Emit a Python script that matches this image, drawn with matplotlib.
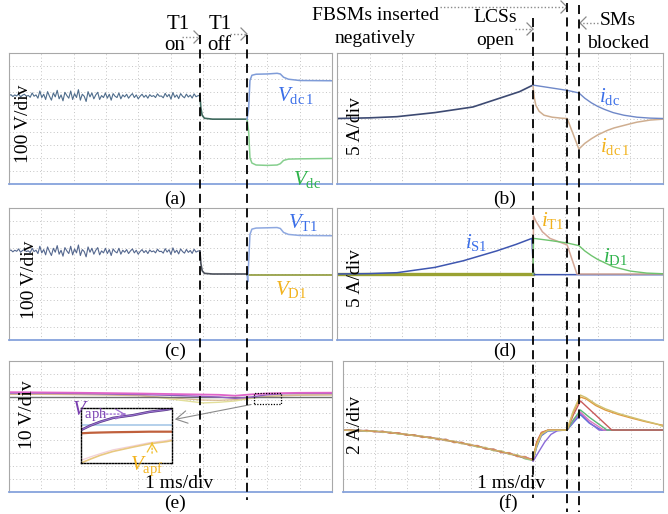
import numpy as np
import matplotlib
matplotlib.use('Agg')
import matplotlib.pyplot as plt
from matplotlib.lines import Line2D
from matplotlib.transforms import blended_transform_factory

plt.rcParams['font.family'] = ['Liberation Serif', 'DejaVu Serif']
plt.rcParams['mathtext.fontset'] = 'custom'
plt.rcParams['mathtext.rm'] = 'Liberation Serif'
plt.rcParams['mathtext.it'] = 'Liberation Serif:italic'

W, H = 668, 514

# event times (ms, 1 ms/div); values below are in divisions
T_ON, T_OFF = 5.91, 7.37
T_LCS, T_MID, T_BLK = 6.01, 7.06, 7.42
F_LCS, F_MID, F_BLK = 5.94, 7.00, 7.38

# (a)/(c) noisy capacitor voltage before T1 is switched on
pre_noise = [1.75, 1.82, 1.68, 1.80, 1.72, 1.90, 1.65, 1.78, 1.85, 1.70,
             1.76, 1.62, 1.95, 1.70, 1.80, 1.55, 2.10, 1.60, 1.85, 1.45,
             2.05, 1.70, 1.40, 1.95, 1.65, 2.15, 1.50, 1.80, 1.35, 2.00,
             1.75, 1.55, 2.10, 1.45, 1.90, 1.60, 2.20, 1.40, 1.85, 1.70,
             1.30, 2.05, 1.65, 1.95, 1.50, 1.80, 2.00, 1.45, 1.75, 1.60,
             1.95, 1.55, 1.85, 1.40, 1.90, 1.70, 1.60, 1.95, 1.50, 1.80,
             1.65, 1.85, 1.55, 1.75, 1.90, 1.60, 1.80, 1.50, 1.70, 1.85,
             1.62, 1.78, 1.55, 1.82, 1.68, 1.75, 1.60, 1.88, 1.70, 1.72,
             1.58, 1.92, 1.66, 1.84, 1.48, 1.98, 1.62, 1.80, 1.52, 1.90,
             1.70, 1.58, 1.86, 1.64, 1.78, 1.56, 1.88, 1.66, 1.74, 1.75]

# (a)
a_mid_t = [5.91, 5.94, 5.98, 6.05, 6.3, 7.0, 7.37]
a_mid_v = [1.75, 0.8, 0.25, 0.02, -0.05, -0.05, -0.05]
vdc1_t = [7.37, 7.42, 7.46, 7.52, 7.65, 8.0, 8.30, 8.40, 8.50, 8.65, 9.0, 10.0]
vdc1_v = [-0.05, 0.8, 2.9, 3.30, 3.38, 3.40, 3.45, 3.40, 3.15, 3.0, 2.9, 2.88]
vdc_v = [-0.05, -1.0, -3.0, -3.40, -3.55, -3.58, -3.55, -3.45, -3.2, -3.1, -3.08, -3.05]

# (b)
idc_pre_t = [0, 1.0, 1.84, 3.0, 4.17, 5.1, 5.6, 6.01]
idc_pre_v = [0, 0.05, 0.14, 0.45, 0.88, 1.64, 2.05, 2.55]
idc_post_t = [6.01, 7.06, 7.42, 7.6, 7.8, 8.0, 8.2, 8.47, 8.8, 9.2, 9.6, 10]
idc_post_v = [2.55, 2.15, 1.95, 1.55, 1.2, 0.92, 0.7, 0.45, 0.25, 0.1, 0.03, 0]
idc1_post_t = [6.01, 6.05, 6.1, 6.2, 6.35, 6.6, 6.9, 7.06, 7.42, 7.6, 7.8,
               8.0, 8.3, 8.5, 9.0, 9.2, 9.6, 10]
idc1_post_v = [2.55, 1.6, 1.0, 0.55, 0.25, 0.1, 0.02, 0.0, -2.33, -1.9, -1.55,
               -1.25, -0.9, -0.72, -0.4, -0.28, -0.12, -0.05]

# (c)
c_mid_t = [5.91, 5.94, 5.98, 6.05, 6.3, 7.0, 7.37]
c_mid_v = [1.75, 0.8, 0.25, 0.05, 0.0, 0.0, 0.0]
vt1_t = [7.37, 7.39, 7.42, 7.46, 7.52, 7.65, 8.0, 8.3, 8.4, 8.5, 8.65, 9.0, 10]
vt1_v = [0, -0.6, 0.9, 3.0, 3.4, 3.48, 3.5, 3.52, 3.45, 3.15, 3.0, 2.92, 2.9]
vd1_t = [7.37, 10]
vd1_v = [-0.05, -0.05]

# (d)
is1_t = [0, 1.0, 1.84, 3.0, 3.87, 4.9, 5.5, 5.98, 6.01, 6.03, 7.42, 10]
is1_v = [0, 0.03, 0.1, 0.5, 1.0, 1.75, 2.25, 2.7, 1.0, -0.05, -0.05, -0.05]
it1_t = [6.01, 6.03, 6.1, 6.2, 6.3, 6.53, 6.8, 7.06, 7.36, 7.42, 10]
it1_v = [0, 4.4, 4.0, 3.6, 3.2, 2.7, 2.45, 2.2, 0.0, 0.0, 0.0]
id1_t = [6.01, 6.03, 6.5, 7.06, 7.42, 7.6, 7.8, 8.0, 8.3, 8.47, 9.0, 9.5, 10]
id1_v = [0, 2.7, 2.55, 2.35, 2.15, 1.75, 1.4, 1.1, 0.75, 0.55, 0.22, 0.07, 0.02]
d_base_t = [0, 6.01]
d_base_v = [0, 0]

# (e)
e_t = [0, 1, 2, 3, 4, 5, 5.5, 6, 6.5, 7, 7.5, 8, 8.5, 9, 10]
e_pink = [2.62, 2.6, 2.58, 2.55, 2.52, 2.48, 2.46, 2.44, 2.42, 2.35, 2.45, 2.52, 2.55, 2.57, 2.58]
e_purple = [2.55, 2.55, 2.52, 2.48, 2.44, 2.38, 2.34, 2.3, 2.25, 2.15, 2.25, 2.42, 2.5, 2.52, 2.52]
e_yellow = [2.58, 2.55, 2.52, 2.48, 2.4, 2.1, 1.95, 1.8, 1.85, 1.95, 2.15, 2.3, 2.38, 2.42, 2.45]
e_tan = [2.45, 2.45, 2.43, 2.4, 2.35, 2.2, 2.1, 2.02, 2.0, 2.05, 2.2, 2.3, 2.35, 2.38, 2.4]
e_gray_t = [0, 10]
e_gray = [2.25, 2.25]
# zoomed inset of (e), normalised box units
z_t = [0, 0.1, 0.21, 0.35, 0.57, 0.75, 0.94, 1.0]
z_aph = [0.6, 0.68, 0.75, 0.82, 0.87, 0.93, 0.97, 0.99]
z_blue = [0.69, 0.69, 0.69, 0.69, 0.69, 0.69, 0.69, 0.69]
z_brown = [0.54, 0.55, 0.555, 0.56, 0.565, 0.57, 0.57, 0.57]
z_apf = [0.0, 0.07, 0.14, 0.21, 0.29, 0.35, 0.39, 0.41]
z_pink = [0.05, 0.11, 0.17, 0.24, 0.31, 0.37, 0.41, 0.43]

# (f) arm currents, before LCSs open
f_pre = {
    'A': [-0.25, -0.34, -0.25, -0.39, -0.31, -0.46, -0.41, -0.60, -0.55, -0.74, -0.70, -0.92, -0.88,
          -1.11, -1.08, -1.34, -1.32, -1.59, -1.58, -1.86, -1.84, -2.14, -2.14, -2.44, -2.55],
    'B': [-0.31, -0.24, -0.36, -0.28, -0.42, -0.35, -0.53, -0.47, -0.68, -0.62, -0.84, -0.79, -1.01,
          -0.97, -1.23, -1.20, -1.46, -1.45, -1.73, -1.71, -2.00, -1.99, -2.30, -2.29, -2.62],
    'C': [-0.27, -0.31, -0.29, -0.33, -0.36, -0.43, -0.47, -0.52, -0.61, -0.67, -0.77, -0.86, -0.93,
          -1.05, -1.16, -1.26, -1.40, -1.50, -1.66, -1.80, -1.93, -2.08, -2.24, -2.42, -2.48],
    'D': [-0.30, -0.27, -0.33, -0.36, -0.32, -0.44, -0.43, -0.58, -0.60, -0.69, -0.77, -0.87, -0.94,
          -1.05, -1.16, -1.28, -1.39, -1.57, -1.62, -1.84, -1.88, -2.12, -2.18, -2.48, -2.60],
    'E': [-0.26, -0.29, -0.30, -0.31, -0.37, -0.39, -0.48, -0.51, -0.59, -0.71, -0.75, -0.87, -0.95,
          -1.06, -1.14, -1.29, -1.38, -1.51, -1.68, -1.76, -1.95, -2.04, -2.23, -2.33, -2.52],
}
# (f) after LCSs open: (colour, pre-list, times, values)
f_post = [
    ('#4a78d8', 'C', [5.94, 6.05, 6.2, 6.4, 7.0, 7.2, 7.42, 7.7, 8.07, 10],
     [-2.6, -1.6, -0.7, -0.35, -0.27, 0.3, 0.9, 0.25, -0.27, -0.27]),
    ('#8a6ad8', 'B', [5.94, 6.1, 6.3, 6.5, 6.7, 7.0, 7.2, 7.42, 7.7, 8.0, 10],
     [-2.65, -2.0, -1.2, -0.6, -0.32, -0.27, 0.35, 1.03, 0.3, -0.27, -0.27]),
    ('#d878c0', 'E', [5.94, 6.05, 6.2, 6.4, 7.0, 7.2, 7.42, 7.7, 8.15, 10],
     [-2.5, -1.45, -0.6, -0.3, -0.27, 0.5, 1.1, 0.45, -0.27, -0.27]),
    ('#5ab878', 'D', [5.94, 6.05, 6.2, 6.4, 7.0, 7.2, 7.42, 7.7, 8.25, 10],
     [-2.4, -1.4, -0.55, -0.3, -0.27, 0.5, 1.26, 0.7, -0.27, -0.27]),
    ('#c85a5a', 'C', [5.94, 6.05, 6.2, 6.4, 7.0, 7.2, 7.42, 8.4, 10],
     [-2.55, -1.2, -0.45, -0.28, -0.27, 0.9, 1.95, -0.27, -0.27]),
    ('#e09a40', 'B', [5.94, 6.05, 6.2, 6.4, 7.0, 7.2, 7.42, 7.6, 7.9, 8.2, 8.6, 9.0, 9.4, 9.8, 10.0],
     [-2.45, -1.3, -0.5, -0.28, -0.27, 1.1, 2.25, 2.1, 1.6, 1.25, 0.92, 0.65, 0.4, 0.18, 0.1]),
    ('#d0c070', 'A', [5.94, 6.05, 6.2, 6.4, 7.0, 7.2, 7.42, 7.6, 7.9, 8.2, 8.6, 9.0, 9.4, 9.8, 10.0],
     [-2.5, -1.5, -0.6, -0.3, -0.27, 1.2, 2.4, 2.2, 1.7, 1.35, 1.0, 0.72, 0.45, 0.2, 0.0]),
]


def fx(x):
    return x / W


def fy(y):
    return 1 - y / H


def panel(x0, y0, x1, y1):
    ax = fig.add_axes([fx(x0), fy(y1), (x1 - x0) / W, (y1 - y0) / H])
    ax.set_xlim(0, 10)
    ax.set_ylim(-5, 5)
    ax.set_xticks(range(1, 10))
    ax.set_yticks(range(-4, 5))
    ax.tick_params(length=0, labelbottom=False, labelleft=False)
    ax.grid(True, color='#c4c4c4', lw=0.7, linestyle=(0, (1, 2.5)))
    for s in ('top', 'left', 'right'):
        ax.spines[s].set_color('#a8a8a8')
    ax.spines['bottom'].set_color('#86a2dc')
    ax.spines['bottom'].set_linewidth(1.3)
    return ax


fig = plt.figure(figsize=(6.68, 5.14), dpi=100)

ax_a = panel(9, 53, 332, 184)
ax_b = panel(337, 53, 663, 184)
ax_c = panel(9, 208, 332, 340)
ax_d = panel(337, 208, 663, 340)
ax_e = panel(9, 361, 332, 492)
ax_f = panel(343, 361, 663, 492)

t_pre = np.linspace(0, T_ON, len(pre_noise))

# (a)
ax_a.plot(t_pre, pre_noise, color='#4f6d8c', lw=0.8)
ax_a.plot(a_mid_t, a_mid_v, color='#3f6a5e', lw=1.2)
ax_a.plot(vdc1_t, vdc_v, color='#86cf8e', lw=1.1)
ax_a.plot(vdc1_t, vdc1_v, color='#7f9cd8', lw=1.1)

# (b)
ax_b.plot(idc_pre_t, idc_pre_v, color='#3d4a72', lw=1.2)
ax_b.plot(idc1_post_t, idc1_post_v, color='#cfae90', lw=1.1)
ax_b.plot(idc_post_t, idc_post_v, color='#6f88c8', lw=1.0)

# (c)
ax_c.plot(t_pre, pre_noise, color='#55688f', lw=0.8)
ax_c.plot(c_mid_t, c_mid_v, color='#4a4f5a', lw=1.2)
ax_c.plot(vd1_t, vd1_v, color='#8f9a3a', lw=1.2)
ax_c.plot(vt1_t, vt1_v, color='#8ea8e0', lw=1.1)

# (d)
ax_d.plot(d_base_t, d_base_v, color='#9aa232', lw=2.4)
ax_d.plot(is1_t, is1_v, color='#3e56b0', lw=1.1)
ax_d.plot(it1_t, it1_v, color='#d4a898', lw=1.1)
ax_d.plot(id1_t, id1_v, color='#6ec46e', lw=1.0)

# (e)
ax_e.plot(e_t, e_yellow, color='#e2df9a', lw=1.0)
ax_e.plot(e_t, e_tan, color='#d8b890', lw=0.9)
ax_e.plot(e_gray_t, e_gray, color='#707070', lw=1.0)
ax_e.plot(e_t, e_purple, color='#9060c0', lw=1.0)
ax_e.plot(e_t, e_pink, color='#e064c8', lw=1.3)
ax_e.add_patch(plt.Rectangle((7.58, 1.72), 0.84, 0.83, fill=False, ec='black',
                             lw=0.9, ls=(0, (1, 1.2)), zorder=4))
ins = ax_e.inset_axes([2.23, -2.79, 2.82, 4.2], transform=ax_e.transData)
ins.set_xlim(0, 1)
ins.set_ylim(0, 1)
ins.set_xticks([])
ins.set_yticks([])
for s in ins.spines.values():
    s.set_linestyle((0, (1, 1.2)))
    s.set_linewidth(1.0)
ins.plot(z_t, z_pink, color='#f2d0d8', lw=0.9)
ins.plot(z_t, z_apf, color='#e8c880', lw=1.2)
ins.plot(z_t, z_blue, color='#a8c8e8', lw=1.2)
ins.plot(z_t, z_brown, color='#c0603c', lw=1.6)
ins.plot(z_t, z_aph, color='#5a3a88', lw=1.8)
ins.plot(z_t, z_aph, color='#9a72d0', lw=0.8)
ax_e.annotate('', xy=(5.05, 0.5), xytext=(7.58, 1.72),
              arrowprops=dict(arrowstyle='->,head_length=0.8,head_width=0.45',
                              color='#8a8a8a', lw=0.8), zorder=6)
ax_e.annotate('', xy=(3.59, 0.95), xytext=(2.82, 0.95),
              arrowprops=dict(arrowstyle='-', ls=':', color='#a070d0', lw=1), zorder=6)
ax_e.annotate('', xy=(3.6, 0.95), xytext=(3.5, 0.95),
              arrowprops=dict(arrowstyle='->,head_length=0.6,head_width=0.35',
                              color='#a070d0', lw=0.9), zorder=6)
ax_e.annotate('', xy=(4.43, -1.26), xytext=(4.43, -2.25),
              arrowprops=dict(arrowstyle='-', ls=':', color='#f0c030', lw=1), zorder=6)
ax_e.annotate('', xy=(4.43, -1.22), xytext=(4.43, -1.5),
              arrowprops=dict(arrowstyle='->,head_length=0.6,head_width=0.35',
                              color='#f0c030', lw=0.9), zorder=6)

# (f)
t_fpre = np.linspace(0, F_LCS, 25)
for color, key, tt, vv in f_post:
    ax_f.plot(t_fpre, f_pre[key], color=color, lw=0.9, alpha=0.75)
for color, key, tt, vv in f_post:
    ax_f.plot(tt, vv, color=color, lw=1.0)


# event lines (x from the shared time base, y in figure pixels)
def vline(ax, t, y0, y1):
    tr = blended_transform_factory(ax.transData, fig.transFigure)
    fig.add_artist(Line2D([t, t], [fy(y0), fy(y1)], transform=tr, color='black',
                          lw=1.3, dashes=(5, 3), zorder=10))


vline(ax_a, T_ON, 35, 483)
vline(ax_a, T_OFF, 35, 500)
vline(ax_b, T_LCS, 18, 498)
vline(ax_b, T_MID, 3, 512)
vline(ax_b, T_BLK, 5, 512)


def arrow(x0, x1, y):
    fig.add_artist(Line2D([fx(x0), fx(x1)], [fy(y), fy(y)], color='#8a8a8a',
                          lw=1, ls=(0, (1, 1.5))))
    d = 1 if x1 > x0 else -1
    fig.add_artist(Line2D([fx(x1 - d * 6), fx(x1), fx(x1 - d * 6)],
                          [fy(y - 6), fy(y), fy(y + 6)], color='#8a8a8a', lw=0.9))


def ftxt(x, y, s, size=14, **kw):
    fig.text(fx(x), fy(y), s, fontsize=size, ha='center', va='baseline', **kw)


ftxt(178, 29, 'T1', size=15)
ftxt(175, 50, 'on', size=15)
arrow(182, 200, 37)
ftxt(220, 29, 'T1', size=15)
ftxt(219, 50, 'off', size=15)
arrow(230, 247, 34)
ftxt(375, 20, 'FBSMs inserted')
ftxt(375, 43, 'negatively')
arrow(440, 567, 7)
ftxt(495, 22, 'LCSs')
ftxt(495, 45, 'open')
arrow(515, 533, 29)
ftxt(618, 25, 'SMs')
ftxt(618, 48, 'blocked')
arrow(598, 580, 23)

for lab, x, y in [('(a)', 175, 204), ('(b)', 505, 204), ('(c)', 175, 356),
                  ('(d)', 505, 356), ('(e)', 175, 508), ('(f)', 508, 508)]:
    ftxt(x, y, lab)

for lab, x, y in [('100 V/div', 24, 124), ('5 A/div', 355, 126), ('100 V/div', 29, 280),
                  ('5 A/div', 355, 278), ('10 V/div', 27, 415), ('2 A/div', 355, 425)]:
    fig.text(fx(x), fy(y), lab, fontsize=14, rotation=90, ha='center', va='center')

ftxt(179, 488, '1 ms/div')
ftxt(511, 488, '1 ms/div')

# signal labels
blue, green, gold, purple = '#3a6ee8', '#2db24a', '#f2b21c', '#7a3fb0'
for s, x, y, c in [(r'$V_{\rm dc\,1}$', 277, 101, blue), (r'$V_{\rm dc}$', 293, 185, green),
                   (r'$i_{\rm dc}$', 599, 102, blue), (r'$i_{\rm dc\,1}$', 600, 152, gold),
                   (r'$V_{\rm T1}$', 288, 228, blue), (r'$V_{\rm D1}$', 275, 295, gold),
                   (r'$i_{\rm S1}$', 465, 248, blue), (r'$i_{\rm T1}$', 541, 226, gold),
                   (r'$i_{\rm D1}$', 603, 262, green), (r'$V_{\rm aph}$', 72, 415, purple),
                   (r'$V_{\rm apf}$', 130, 470, gold)]:
    fig.text(fx(x), fy(y), s, color=c, fontsize=15, va='baseline', zorder=11)

fig.savefig('out.png', dpi=100)
